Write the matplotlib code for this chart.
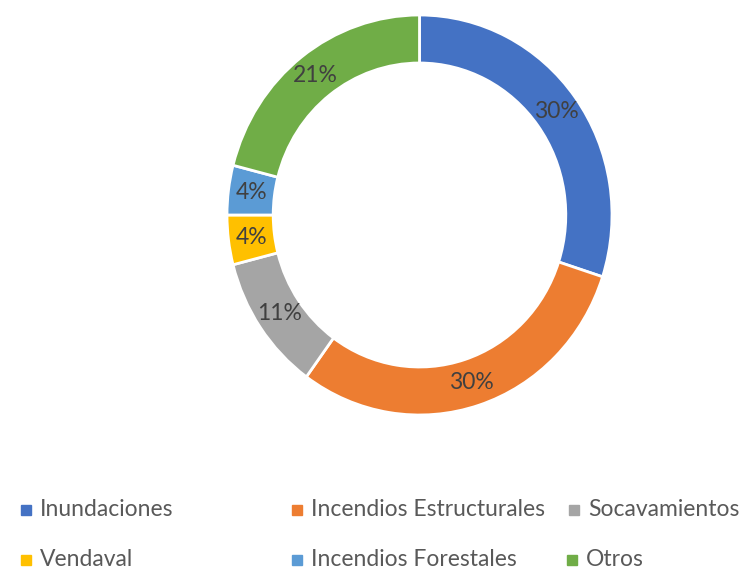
import matplotlib
matplotlib.use("Agg")
import matplotlib.pyplot as plt
from matplotlib.patches import Rectangle

categories = ["Inundaciones", "Incendios Estructurales", "Socavamientos",
              "Vendaval", "Incendios Forestales", "Otros"]
values = [30, 30, 11, 4, 4, 21]
colors = ["#4472C4", "#ED7D31", "#A5A5A5", "#FFC000", "#5B9BD5", "#70AD47"]

W, H = 747, 569
fig = plt.figure(figsize=(W / 100, H / 100), dpi=100)
plt.rcParams['font.family'] = ['Lato', 'DejaVu Sans']

# ring axes (pixel placement)
cx, cy, rx, ry = 419.5, 215, 192.5, 200
ax = fig.add_axes([(cx - rx) / W, (H - (cy + ry)) / H, 2 * rx / W, 2 * ry / H])
wedges, texts, autotexts = ax.pie(
    values, colors=colors, startangle=90, counterclock=False,
    radius=1.0, autopct=lambda p: f"{p:.0f}%", pctdistance=0.88,
    wedgeprops=dict(width=0.24, edgecolor="white", linewidth=2),
    textprops=dict(color="#404040", fontsize=16.5))
ax.set_aspect("auto")
ax.set_xlim(-1, 1)
ax.set_ylim(-1, 1)
ax.axis("off")

# legend laid out like the original (3 columns, 2 rows)
marker_x = [26, 297, 574, 26, 297, 572]
row_y = [510, 560]
for i, (lab, col) in enumerate(zip(categories, colors)):
    r = i // 3
    x, y = marker_x[i], row_y[r]
    s = 9.5
    fig.patches.append(Rectangle(((x - s / 2) / W, (H - y - s / 2) / H), s / W, s / H,
                                 transform=fig.transFigure, color=col, figure=fig))
    fig.text((x + 14) / W, (H - y) / H, lab, ha="left", va="center",
             fontsize=16.5, color="#595959")

fig.savefig("out.png", dpi=100, facecolor="white")
